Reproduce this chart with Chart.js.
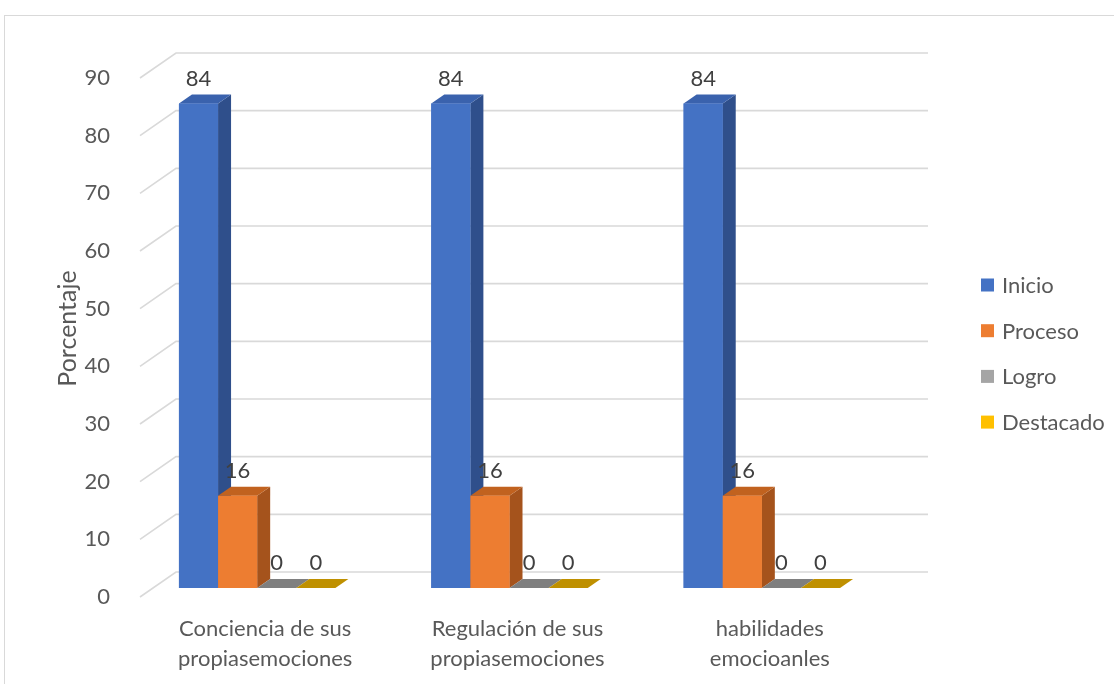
<!DOCTYPE html>
<html>
<head>
<meta charset="utf-8">
<script src="https://cdn.jsdelivr.net/npm/chart.js@4.4.1/dist/chart.umd.min.js"></script>
<style>
  body { margin: 0; background: #fff; }
  #wrap { width: 1114px; height: 684px; }
</style>
</head>
<body>
<div id="wrap"><canvas id="mychart" width="1114" height="684"></canvas></div>
<script>
const categorias = [
    ['Conciencia de sus', 'propiasemociones'],
    ['Regulación de sus', 'propiasemociones'],
    ['habilidades', 'emocioanles']
]
const inicio = [84, 84, 84]
const proceso = [16, 16, 16]
const logro = [0, 0, 0]
const destacado = [0, 0, 0]
const niveles = ['Inicio', 'Proceso', 'Logro', 'Destacado']

// front, top and side colours for each series
const colFront = ['#4472C4', '#ED7D31', '#A5A5A5', '#FFC000']
const colTop = ['#3A62AD', '#C1621F', '#7F7F7F', '#BF9000']
const colSide = ['#2F4F8B', '#A5531C', '#707070', '#A67D00']

const textColor = '#595959'
const fontFam = 'Lato, "Liberation Sans", sans-serif'
const fontSize = 22

// depth of a bar and offsets of the back wall / front edge
const depth = { x: 13, y: -9 }
const wall = { x: 22, y: -16 }
const front = { x: -14, y: 9 }

const grid3d = {
    id: 'grid3d',
    beforeDraw(chart) {
        const ctx = chart.ctx
        ctx.save()
        ctx.strokeStyle = '#d9d9d9'
        ctx.lineWidth = 1
        ctx.strokeRect(4.5, 15.5, 1200, 800)
        ctx.restore()
    },
    beforeDatasetsDraw(chart) {
        const ctx = chart.ctx
        const y = chart.scales.y
        const area = chart.chartArea
        ctx.save()
        ctx.strokeStyle = '#d9d9d9'
        ctx.lineWidth = 1.6
        y.ticks.forEach(t => {
            const py = y.getPixelForValue(t.value)
            ctx.beginPath()
            ctx.moveTo(area.left + front.x + 23, py + front.y)
            ctx.lineTo(area.left + wall.x + 23, py + wall.y)
            ctx.lineTo(928, py + wall.y)
            ctx.stroke()
        })
        ctx.restore()
    },
    afterDatasetsDraw(chart) {
        const ctx = chart.ctx
        const n = chart.data.labels.length
        ctx.save()
        for (let i = 0; i < n; i++) {
            chart.data.datasets.forEach((ds, d) => {
                const bar = chart.getDatasetMeta(d).data[i]
                const l = bar.x - bar.width / 2
                const r = bar.x + bar.width / 2
                const top = bar.y
                const base = bar.base
                // side face
                ctx.fillStyle = colSide[d]
                ctx.beginPath()
                ctx.moveTo(r, top)
                ctx.lineTo(r + depth.x, top + depth.y)
                ctx.lineTo(r + depth.x, base + depth.y)
                ctx.lineTo(r, base)
                ctx.closePath()
                ctx.fill()
                // top face
                ctx.fillStyle = colTop[d]
                ctx.beginPath()
                ctx.moveTo(l, top)
                ctx.lineTo(l + depth.x, top + depth.y)
                ctx.lineTo(r + depth.x, top + depth.y)
                ctx.lineTo(r, top)
                ctx.closePath()
                ctx.fill()
                bar.draw(ctx)
            })
        }
        // value labels
        ctx.fillStyle = '#404040'
        ctx.font = fontSize + 'px ' + fontFam
        ctx.textAlign = 'center'
        ctx.textBaseline = 'middle'
        chart.data.datasets.forEach((ds, d) => {
            chart.getDatasetMeta(d).data.forEach((bar, i) => {
                ctx.fillText(String(ds.data[i]), bar.x, bar.y - 25)
            })
        })
        ctx.restore()
    },
    afterDraw(chart) {
        // legend on the right
        const ctx = chart.ctx
        ctx.save()
        ctx.font = fontSize + 'px ' + fontFam
        ctx.textBaseline = 'middle'
        ctx.textAlign = 'left'
        chart.data.datasets.forEach((ds, d) => {
            const cy = 285 + d * 45.7
            ctx.fillStyle = colFront[d]
            ctx.fillRect(981, cy - 6.5, 13, 13)
            ctx.fillStyle = textColor
            ctx.fillText(ds.label, 1002, cy + 1)
        })
        ctx.restore()
    }
}

new Chart(document.getElementById('mychart'), {
    type: 'bar',
    data: {
        labels: categorias,
        datasets: [
            { label: niveles[0], data: inicio, backgroundColor: colFront[0] },
            { label: niveles[1], data: proceso, backgroundColor: colFront[1] },
            { label: niveles[2], data: logro, backgroundColor: colFront[2] },
            { label: niveles[3], data: destacado, backgroundColor: colFront[3] }
        ]
    },
    options: {
        responsive: false,
        animation: false,
        layout: { padding: { top: 69, right: 226, bottom: 0, left: 0 } },
        datasets: { bar: { barPercentage: 1, categoryPercentage: 0.62, borderWidth: 0 } },
        plugins: { legend: { display: false }, tooltip: { enabled: false } },
        scales: {
            x: {
                grid: { display: false },
                border: { display: false },
                ticks: {
                    color: textColor,
                    font: { family: fontFam, size: fontSize, lineHeight: 1.36 },
                    padding: 18,
                    labelOffset: 8,
                    maxRotation: 0
                },
                afterFit(scale) { scale.height = 96 }
            },
            y: {
                min: 0,
                max: 90,
                grid: { display: false },
                border: { display: false },
                ticks: {
                    stepSize: 10,
                    color: textColor,
                    font: { family: fontFam, size: fontSize },
                    padding: 13,
                    labelOffset: 9
                },
                title: {
                    display: true,
                    text: 'Porcentaje',
                    color: textColor,
                    font: { family: fontFam, size: 25 },
                    padding: { top: 53, bottom: 0 }
                },
                afterFit(scale) { scale.width = 131 }
            }
        }
    },
    plugins: [grid3d]
})
</script>
</body>
</html>
